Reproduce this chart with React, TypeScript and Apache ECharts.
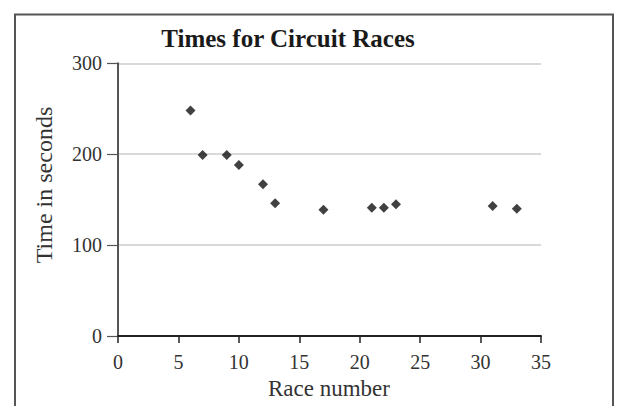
import React, { useEffect, useRef } from "react";
import * as echarts from "echarts";

const raceNumbers = [6, 7, 9, 10, 12, 13, 17, 21, 22, 23, 31, 33];
const timesSeconds = [248, 199, 199, 188, 167, 146, 139, 141, 141, 145, 143, 140];
const titleText = "Times for Circuit Races";
const xName = "Race number";
const yName = "Time in seconds";

const FONT = "'Liberation Serif', 'DejaVu Serif', serif";

export default function App() {
  const ref = useRef<HTMLDivElement>(null);
  useEffect(() => {
    if (!ref.current) return;
    const chart = echarts.init(ref.current, undefined, { renderer: "svg" });
    const data = raceNumbers.map((x, i) => [x, timesSeconds[i]]);
    chart.setOption({
      animation: false,
      backgroundColor: "#ffffff",
      textStyle: { fontFamily: FONT },
      grid: { left: 118, right: 78, top: 63.3, bottom: 70, containLabel: false },
      xAxis: {
        type: "value",
        min: 0,
        max: 35,
        interval: 5,
        axisLine: { show: true, lineStyle: { color: "#222", width: 2 } },
        axisTick: { show: true, length: 7, lineStyle: { color: "#222", width: 1.5 } },
        axisLabel: { color: "#333", fontSize: 20, fontFamily: FONT, margin: 16 },
        splitLine: { show: false },
      },
      yAxis: {
        type: "value",
        min: 0,
        max: 300,
        interval: 100,
        axisLine: { show: true, lineStyle: { color: "#555", width: 2 } },
        axisTick: { show: true, length: 11, lineStyle: { color: "#555", width: 1.2 } },
        axisLabel: { color: "#333", fontSize: 20, fontFamily: FONT, margin: 16 },
        splitLine: { show: true, lineStyle: { color: "#cccccc", width: 1.5 } },
      },
      graphic: [
        {
          type: "rect",
          shape: { x: 15, y: 14.5, width: 598, height: 420 },
          style: { fill: "none", stroke: "#555", lineWidth: 2 },
          silent: true,
        },
        {
          type: "text",
          x: 288,
          y: 38,
          style: {
            text: titleText,
            fontFamily: FONT,
            fontSize: 25,
            fontWeight: "bold",
            fill: "#1a1a1a",
            textAlign: "center",
            textVerticalAlign: "middle",
          },
        },
        {
          type: "text",
          x: 329,
          y: 388,
          style: {
            text: xName,
            fontFamily: FONT,
            fontSize: 23,
            fill: "#333",
            textAlign: "center",
            textVerticalAlign: "middle",
          },
        },
        {
          type: "text",
          x: 44,
          y: 185,
          rotation: Math.PI / 2,
          style: {
            text: yName,
            fontFamily: FONT,
            fontSize: 24,
            fill: "#333",
            textAlign: "center",
            textVerticalAlign: "middle",
          },
        },
      ],
      series: [
        {
          type: "scatter",
          data,
          symbol: "diamond",
          symbolSize: 10,
          itemStyle: { color: "#111" },
        },
      ],
    });
    return () => chart.dispose();
  }, []);
  return (
    <div
      ref={ref}
      style={{ position: "fixed", left: 0, top: 0, width: 619, height: 406 }}
    />
  );
}
